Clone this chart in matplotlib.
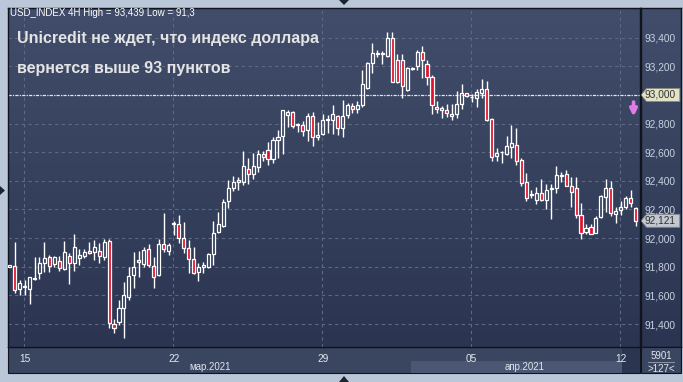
import numpy as np
import pandas as pd
import matplotlib
matplotlib.use('Agg')
import matplotlib.pyplot as plt
from matplotlib.patches import Rectangle, Polygon
from matplotlib.transforms import blended_transform_factory
from matplotlib.colors import LinearSegmentedColormap

# 4H candles, USD index, 12.03.2021 - 12.04.2021
opens = [91.800, 91.804, 91.644, 91.662, 91.642, 91.716, 91.753, 91.823, 91.865, 91.816,
         91.837, 91.786, 91.874, 91.823, 91.858, 91.874, 91.907, 91.900, 91.907, 91.870,
         91.977, 91.400, 91.416, 91.509, 91.590, 91.741, 91.846, 91.818, 91.921, 91.807,
         91.739, 91.956, 91.911, 92.100, 92.097, 92.004, 91.928, 91.851, 91.765, 91.795,
         91.795, 91.886, 92.041, 92.085, 92.258, 92.351, 92.407, 92.395, 92.483, 92.449,
         92.500, 92.588, 92.616, 92.553, 92.686, 92.711, 92.858, 92.881, 92.793, 92.791,
         92.758, 92.856, 92.704, 92.725, 92.823, 92.828, 92.851, 92.767, 92.860, 92.926,
         92.905, 92.928, 93.051, 93.221, 93.287, 93.287, 93.272, 93.396, 93.242, 93.242,
         93.033, 93.184, 93.202, 93.302, 93.214, 93.126, 92.914, 92.893, 92.893, 92.867,
         92.865, 92.935, 93.012, 92.984, 92.977, 93.016, 93.040, 92.830, 92.576, 92.600,
         92.590, 92.639, 92.649, 92.544, 92.395, 92.300, 92.269, 92.318, 92.269, 92.341,
         92.353, 92.437, 92.451, 92.367, 92.353, 92.158, 92.046, 92.081, 92.039, 92.148,
         92.288, 92.353, 92.165, 92.193, 92.214, 92.283, 92.209]
highs = [91.815, 91.970, 91.707, 91.707, 91.725, 91.870, 91.865, 91.970, 91.881, 91.874,
         91.874, 91.979, 91.898, 92.028, 91.921, 91.921, 91.974, 91.986, 91.963, 91.995,
         91.995, 91.432, 91.567, 91.695, 91.800, 91.900, 91.911, 91.935, 91.956, 91.865,
         91.997, 92.172, 91.967, 92.121, 92.160, 92.111, 91.986, 91.935, 91.828, 91.834,
         91.893, 92.118, 92.181, 92.274, 92.409, 92.437, 92.425, 92.611, 92.560, 92.595,
         92.616, 92.611, 92.674, 92.704, 92.756, 92.895, 92.895, 92.891, 92.805, 92.816,
         92.874, 92.879, 92.814, 92.865, 92.860, 92.928, 92.860, 92.963, 92.946, 92.946,
         92.958, 93.172, 93.233, 93.365, 93.314, 93.310, 93.439, 93.439, 93.284, 93.284,
         93.198, 93.195, 93.314, 93.345, 93.244, 93.140, 92.958, 92.923, 92.940, 92.935,
         93.028, 93.074, 93.016, 93.005, 93.040, 93.109, 93.098, 92.836, 92.628, 92.612,
         92.714, 92.791, 92.767, 92.560, 92.458, 92.339, 92.358, 92.416, 92.377, 92.377,
         92.502, 92.463, 92.479, 92.428, 92.428, 92.242, 92.102, 92.102, 92.153, 92.300,
         92.416, 92.397, 92.214, 92.260, 92.293, 92.335, 92.218]
lows = [91.797, 91.618, 91.604, 91.606, 91.537, 91.707, 91.711, 91.765, 91.765, 91.800,
        91.772, 91.777, 91.676, 91.770, 91.811, 91.858, 91.886, 91.846, 91.823, 91.846,
        91.374, 91.340, 91.392, 91.299, 91.567, 91.653, 91.725, 91.800, 91.795, 91.653,
        91.735, 91.904, 91.881, 92.021, 91.967, 91.897, 91.753, 91.750, 91.702, 91.753,
        91.793, 91.811, 92.034, 92.076, 92.209, 92.332, 92.337, 92.374, 92.379, 92.411,
        92.462, 92.542, 92.511, 92.523, 92.558, 92.588, 92.774, 92.767, 92.739, 92.716,
        92.681, 92.642, 92.686, 92.720, 92.737, 92.725, 92.718, 92.709, 92.842, 92.877,
        92.877, 92.919, 93.044, 93.151, 93.265, 93.219, 93.265, 93.090, 93.081, 92.977,
        93.028, 93.175, 93.175, 93.121, 93.070, 92.870, 92.877, 92.837, 92.846, 92.825,
        92.842, 92.900, 92.986, 92.951, 92.919, 92.977, 92.818, 92.539, 92.539, 92.523,
        92.581, 92.563, 92.509, 92.365, 92.260, 92.283, 92.241, 92.258, 92.200, 92.137,
        92.316, 92.393, 92.365, 92.218, 92.144, 91.997, 92.027, 92.030, 92.037, 92.144,
        92.183, 92.153, 92.107, 92.160, 92.200, 92.218, 92.084]
closes = [91.812, 91.637, 91.683, 91.668, 91.725, 91.724, 91.823, 91.858, 91.802, 91.865,
          91.788, 91.900, 91.823, 91.939, 91.881, 91.904, 91.893, 91.935, 91.872, 91.974,
          91.404, 91.369, 91.509, 91.606, 91.737, 91.800, 91.830, 91.916, 91.809, 91.725,
          91.956, 91.925, 91.949, 92.106, 92.004, 91.928, 91.851, 91.753, 91.800, 91.809,
          91.886, 92.039, 92.099, 92.255, 92.351, 92.393, 92.393, 92.507, 92.449, 92.504,
          92.588, 92.570, 92.553, 92.686, 92.709, 92.895, 92.879, 92.781, 92.797, 92.746,
          92.856, 92.704, 92.723, 92.823, 92.832, 92.865, 92.767, 92.856, 92.930, 92.902,
          92.928, 93.074, 93.221, 93.291, 93.291, 93.291, 93.396, 93.093, 93.093, 93.063,
          93.191, 93.188, 93.300, 93.242, 93.128, 92.930, 92.900, 92.907, 92.872, 92.851,
          92.937, 93.012, 92.991, 92.988, 93.019, 93.040, 92.825, 92.570, 92.595, 92.604,
          92.644, 92.665, 92.539, 92.388, 92.283, 92.310, 92.318, 92.265, 92.339, 92.347,
          92.439, 92.443, 92.367, 92.325, 92.158, 92.039, 92.074, 92.032, 92.144, 92.297,
          92.353, 92.172, 92.186, 92.214, 92.283, 92.242, 92.121]

price_levels = [91.4, 91.6, 91.8, 92.0, 92.2, 92.4, 92.6, 92.8, 93.0, 93.2, 93.4]
months = ['мар.2021', 'апр.2021']
level_line = 93.0
title_lines = ['Unicredit не ждет, что индекс доллара', 'вернется выше 93 пунктов']
header = 'USD_INDEX 4H High = 93,439 Low = 91,3'

o = np.array(opens); h = np.array(highs); l = np.array(lows); c = np.array(closes)
n = len(o)
x = np.arange(n)

# bar times: 6 bars per weekday, starting Fri 12 Mar 12:00
days = pd.bdate_range('2021-03-12', periods=30)
times = pd.DatetimeIndex([d + pd.Timedelta(hours=4 * k) for d in days for k in range(6)])[3:3 + n]
week_idx = [i for i, t in enumerate(times) if t.dayofweek == 0 and t.hour == 0]
week_lab = [times[i].strftime('%d') for i in week_idx]
apr_start = [i for i, t in enumerate(times) if t.month == 4][0]

W, H = 683, 382
def fx(px): return px / W
def fy(py): return 1 - py / H
def fmt(v): return f'{v:.3f}'.replace('.', ',')

fig = plt.figure(figsize=(W / 100, H / 100), dpi=100)
fig.patch.set_facecolor('#b9c7d8')
plt.rcParams['font.family'] = ['Liberation Sans', 'DejaVu Sans']

grad = LinearSegmentedColormap.from_list('g', ['#2b3551', '#414d6a'])
ramp = np.linspace(0, 1, 256).reshape(-1, 1)

ax = fig.add_axes([fx(8), fy(347), fx(640) - fx(8), fy(8) - fy(347)])
ax_r = fig.add_axes([fx(641), fy(347), fx(681) - fx(641), fy(8) - fy(347)])
for a in (ax, ax_r):
    a.imshow(ramp, cmap=grad, origin='lower', aspect='auto', extent=[0, 1, 0, 1],
             transform=a.transAxes, zorder=0)
    for s in a.spines.values():
        s.set_color('#10141c')
        s.set_linewidth(1)
ax_r.set_xticks([]); ax_r.set_yticks([])
ax_r.set_zorder(0); ax.set_zorder(1)

xmin, xmax = -0.34, 126.87
ymin, ymax = 91.2394, 93.6075

# grid
for v in price_levels:
    ax.axhline(v, color='#5d6985', lw=0.8, ls=(0, (3, 3)), zorder=1)
for i in week_idx:
    ax.axvline(i - 0.15, color='#5d6985', lw=0.8, ls=(0, (3, 3)), zorder=1)
ax.axhline(level_line, color='#e8e8e8', lw=0.9, ls=(0, (2.5, 1, 1, 1)), zorder=2)

# candles
up = c >= o
top = np.maximum(o, c); bot = np.minimum(o, c)
ax.vlines(x, top, h, color='white', lw=1, zorder=3)
ax.vlines(x, l, bot, color='white', lw=1, zorder=3)
body = np.maximum(top - bot, 0.006)
ax.bar(x, body, bottom=bot - (body - (top - bot)) / 2, width=0.62,
       color=np.where(up, 'none', '#e3112d').tolist(), edgecolor='white', linewidth=0.9, zorder=4)

ax.set_xlim(xmin, xmax)
ax.set_ylim(ymin, ymax)
ax_r.set_xlim(0, 1)
ax_r.set_ylim(ymin, ymax)

ax.yaxis.tick_right()
ax.set_yticks(price_levels, ['' if v == level_line else fmt(v) for v in price_levels])
ax.tick_params(axis='y', length=0, pad=3, labelsize=7.3, labelcolor='#c9d2e2')
ax.set_xticks(week_idx, week_lab)
ax.tick_params(axis='x', length=0, pad=5, labelsize=7.3, labelcolor='#e4e8f0')

# price tags on the scale
d = 6.5 / 143.15
for val, fc, ec in [(level_line, '#e2e2c6', '#8a8a78'), (c[-1], '#c3c7cf', '#80848c')]:
    ax_r.add_patch(Polygon([(0.0, val), (0.14, val + d), (0.97, val + d), (0.97, val - d), (0.14, val - d)],
                           closed=True, fc=fc, ec=ec, lw=0.6, zorder=5))
    ax_r.text(0.09, val, fmt(val), fontsize=7.3, color='#303030', va='center', ha='left', zorder=6)

# pink signal arrow
ax.annotate('', xy=(xmax - 1.3, 92.83), xytext=(xmax - 1.3, 92.97),
            arrowprops=dict(arrowstyle='-|>', color='#e07ce8', lw=2.6, mutation_scale=10), zorder=6)

# title texts
fig.text(fx(10), fy(13), header, fontsize=7, color='white', va='center', ha='left')
fig.text(fx(17), fy(38), title_lines[0], fontsize=11.5, fontweight='bold', color='#e4e4e4', va='center')
fig.text(fx(17), fy(68), title_lines[1], fontsize=11.5, fontweight='bold', color='#e4e4e4', va='center')

# date panel
fig.patches.append(Rectangle((fx(8), fy(373)), fx(640) - fx(8), fy(347) - fy(373),
                             transform=fig.transFigure, fc='#3a4560', ec='#10141c', lw=0.8, zorder=0))
fig.patches.append(Rectangle((fx(641), fy(373)), fx(681) - fx(641), fy(347) - fy(373),
                             transform=fig.transFigure, fc='#3a4560', ec='#10141c', lw=0.8, zorder=0))
bt = blended_transform_factory(ax.transData, fig.transFigure)
ax.add_patch(Rectangle((apr_start - 0.3, fy(373)), xmax - 3.4 - apr_start, fy(361) - fy(373),
                       transform=bt, fc='#4b5772', ec='none', clip_on=False, zorder=0))
ax.add_patch(Rectangle((xmax - 3.6, fy(373)), 3.6, fy(347) - fy(373),
                       transform=bt, fc='#2c3550', ec='none', clip_on=False, zorder=0))
ax.text((xmin + apr_start) / 2, fy(367), months[0], transform=bt, fontsize=7, color='#dfe4ee',
        ha='center', va='center')
ax.text((apr_start + xmax - 3.4) / 2 + 1.5, fy(367), months[1], transform=bt, fontsize=7, color='#dfe4ee',
        ha='center', va='center')
fig.text(fx(661), fy(356), '5901', fontsize=7, color='#e4e8f0', ha='center', va='center')
fig.add_artist(plt.Line2D([fx(648), fx(674)], [fy(362), fy(362)], color='#9aa4b8', lw=0.6))
fig.text(fx(661), fy(369), f'>{n}<', fontsize=7, color='#e4e8f0', ha='center', va='center')

# frame arrows
for pts in ([(0, 186), (0, 195), (5, 190.5)], [(339, 0), (349, 0), (344, 5)], [(339, 382), (349, 382), (344, 376)]):
    fig.patches.append(Polygon([(fx(a), fy(b)) for a, b in pts], closed=True,
                               transform=fig.transFigure, fc='#1d2430', ec='none'))

fig.savefig('out.png', dpi=100, facecolor=fig.get_facecolor())
